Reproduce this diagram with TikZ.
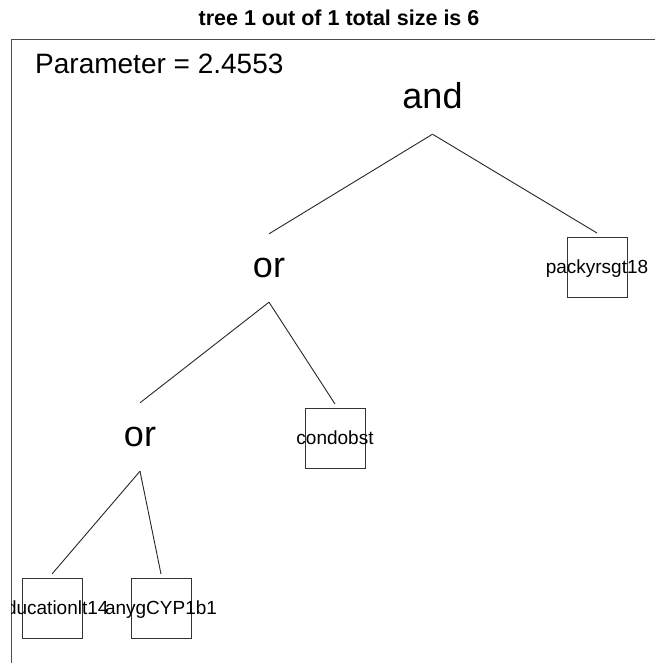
\documentclass[tikz,border=0pt]{standalone}
\usepackage{fontspec}
\setmainfont{Liberation Sans}
\begin{document}
\begin{tikzpicture}[x=1pt,y=-1pt,
    op/.style={font=\fontsize{36}{36}\selectfont,
        text height=18pt, text depth=0pt, minimum height=68pt, inner sep=0pt},
    leaf/.style={draw=black!80, line width=1pt, minimum size=60pt,
        inner sep=0pt, outer sep=4pt, font=\fontsize{19}{19}\selectfont,
        text height=13.6pt, text depth=0pt},
    branch/.style={black!85, line width=0.9pt},]
    \useasboundingbox (0,0) rectangle (654,663);
    \node[font=\bfseries\fontsize{21.5}{21.5}\selectfont, anchor=base, inner sep=0pt]
        (title) at (339,26) {tree 1 out of 1 total size is 6};
    \draw[black!70, line width=1pt] (11,40) rectangle (680,690);
    \begin{scope}
    \clip (11,40) rectangle (654,663);
    \node[font=\fontsize{28}{28}\selectfont, anchor=base west, inner sep=0pt]
        (param) at (35,73.5) {Parameter = 2.4553};

    % operators
    \node[op] (and) at (432.5,100) {and};
    \node[op] (or1) at (269,268) {or};
    \node[op] (or2) at (140,437) {or};

    % leaves
    \node[leaf] (packy) at (597,267) {\makebox[0pt]{packyrsgt18}};
    \node[leaf] (cond) at (335,438) {\makebox[0pt]{condobst}};
    \node[leaf] (edu) at (52,608) {\makebox[0pt]{educationlt14}};
    \node[leaf] (cyp) at (161,608) {\makebox[0pt]{anygCYP1b1}};

    \draw[branch] (and.south) -- (or1.north);
    \draw[branch] (and.south) -- (packy.north);
    \draw[branch] (or1.south) -- (or2.north);
    \draw[branch] (or1.south) -- (cond.north);
    \draw[branch] (or2.south) -- (edu.north);
    \draw[branch] (or2.south) -- (cyp.north);
    \end{scope}
\end{tikzpicture}
\end{document}
